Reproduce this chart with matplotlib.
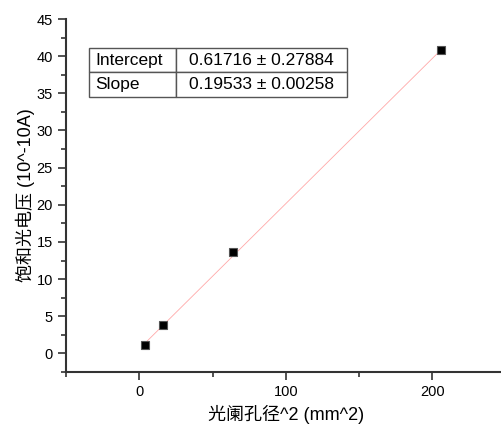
import matplotlib
matplotlib.use("Agg")
import matplotlib.pyplot as plt
from matplotlib.ticker import MultipleLocator

# 光阑孔径平方 vs 饱和光电压
aperture_sq = [4, 16, 64, 206]
saturation_i = [1.15, 3.77, 13.6, 40.8]

# 线性拟合结果
intercept = 0.61716
intercept_err = 0.27884
slope = 0.19533
slope_err = 0.00258

fonts = ['Liberation Sans', 'Noto Sans CJK SC']
plt.rcParams['font.family'] = fonts

fig = plt.figure(figsize=(5.02, 4.28), dpi=100)
ax = fig.add_axes([0.1315, 0.1308, 0.8755, 0.8248])

# 拟合直线, 只画数据范围内
x0, x1 = min(aperture_sq), max(aperture_sq)
ax.plot([x0, x1], [intercept + slope * x0, intercept + slope * x1],
        color='#ffa8a8', lw=0.6, zorder=2)
ax.plot(aperture_sq, saturation_i, 's', ms=6, mfc='black', mec='#555555',
        mew=0.8, zorder=3)

ax.set_xlim(-50, 250)
ax.set_ylim(-2.5, 45)
ax.xaxis.set_major_locator(MultipleLocator(100))
ax.xaxis.set_minor_locator(MultipleLocator(50))
ax.yaxis.set_major_locator(MultipleLocator(5))
ax.yaxis.set_minor_locator(MultipleLocator(2.5))

for s in ['top', 'right']:
    ax.spines[s].set_visible(False)
for s in ['left', 'bottom']:
    ax.spines[s].set_linewidth(1.5)
    ax.spines[s].set_color('#333333')
ax.tick_params(which='major', direction='out', length=6, width=1.2,
               colors='#333333', labelsize=10.5, labelcolor='black')
ax.tick_params(which='minor', direction='out', length=3.5, width=1.2,
               colors='#333333')

ax.set_xlabel('光阑孔径^2 (mm^2)', fontsize=13, labelpad=4)
ax.set_ylabel('饱和光电压 (10^-10A)', fontsize=13, labelpad=1)

# 参数表
cells = [['Intercept', f'{intercept} ± {intercept_err}'],
         ['Slope', f'{slope} ± {slope_err}']]
tb = ax.table(cellText=cells, colWidths=[0.337, 0.663],
              bbox=[0.0523, 0.779, 0.587, 0.139])
tb.auto_set_font_size(False)
for (r, c), cell in tb.get_celld().items():
    cell.set_edgecolor('#555555')
    cell.set_linewidth(1.0)
    cell.get_text().set_fontsize(12.5)
    cell.get_text().set_fontfamily(fonts)
    if c == 0:
        cell.get_text().set_ha('left')
        cell.PAD = 0.07
    else:
        cell.get_text().set_ha('center')

fig.savefig('out.png', dpi=100)
